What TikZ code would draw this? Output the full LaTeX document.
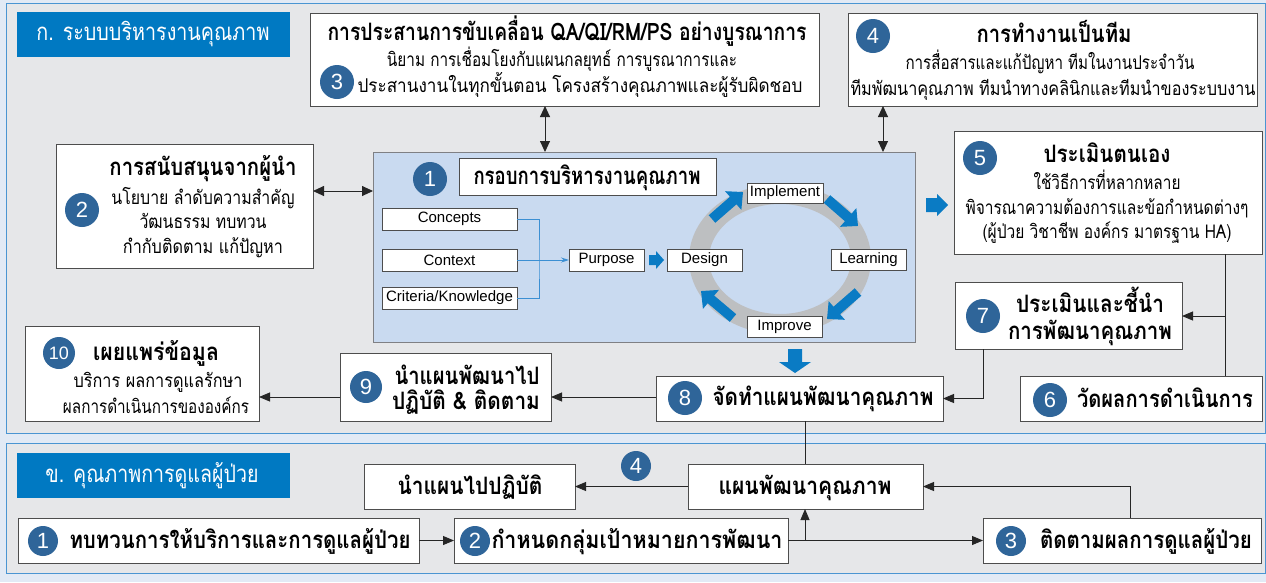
\documentclass[tikz,border=0pt]{standalone}
\usepackage{fontspec}
\usepackage{graphicx}
\setmainfont{Liberation Sans}
\newfontfamily\thai[Script=Thai]{Loma}
\usetikzlibrary{arrows.meta}

\definecolor{bgblue}{HTML}{E2EAF5}
\definecolor{panelgray}{HTML}{E6E7E9}
\definecolor{panelline}{HTML}{4A95D2}
\definecolor{hdrblue}{HTML}{0079C2}
\definecolor{numblue}{HTML}{2F6599}
\definecolor{fwblue}{HTML}{C9DAF0}
\definecolor{fwline}{HTML}{7F8084}
\definecolor{ringgray}{HTML}{BDBFC1}
\definecolor{arrblue}{HTML}{0A7BC4}
\definecolor{lineblue}{HTML}{3B8FD3}
\definecolor{boxline}{HTML}{4D4D4D}

\newcommand\fT{\thai\bfseries\fontsize{24}{28}\selectfont}
\newcommand\fB{\thai\fontsize{19}{22}\selectfont}
\newcommand\fH{\thai\fontsize{24}{28}\selectfont}

% box: [opts]{name}{x1}{y1}{x2}{y2}{text}
\newcommand\bx[7][]{\node[box,#1,minimum width={#5pt-#3pt},minimum height={#6pt-#4pt}] (#2) at ({(#3+#5)/2},{(#4+#6)/2}) {#7};}
% text line: {name}{x}{y}{width}{style}{text}
\newcommand\tl[6]{\node[#5] (#1) at (#2,#3) {\resizebox{#4pt}{\height}{#6}};}
% number circle: {name}{x,y}{digit}{radius}
\newcommand\num[4]{\node[numc,minimum size={2*#4pt}] (#1) at (#2) {#3};}
% right block arrow: {tipx}{tipy}{L}{h}{W}{w}
\newcommand\rblock[6]{\fill[arrblue] (#1,#2) -- ++(-#4,-#5) -- ++(0,#5-#6) -- ++(#4-#3,0) -- ++(0,2*#6) -- ++(#3-#4,0) -- ++(0,#5-#6) -- cycle;}
% down block arrow
\newcommand\dblock[6]{\fill[arrblue] (#1,#2) -- ++(-#5,-#4) -- ++(#5-#6,0) -- ++(0,#4-#3) -- ++(2*#6,0) -- ++(0,#3-#4) -- ++(#5-#6,0) -- cycle;}

\begin{document}
\begin{tikzpicture}[x=1pt,y=-1pt,
  box/.style={draw=boxline,line width=0.9pt,fill=white,inner sep=0,outer sep=0},
  lbox/.style={box,font=\fontsize{15}{17}\selectfont},
  numc/.style={circle,fill=numblue,text=white,inner sep=0,font=\fontsize{22}{22}\selectfont},
  ttl/.style={anchor=base,inner sep=0,font=\fT,yshift=-6.5pt},
  bdy/.style={anchor=base,inner sep=0,font=\fB,yshift=-5pt},
  hdr/.style={anchor=base,inner sep=0,font=\fH,text=white,yshift=-6.5pt},
  conn/.style={draw=black!85,line width=0.9pt,-{Triangle[length=11pt,width=9pt]}},
  dconn/.style={draw=black!85,line width=0.9pt,{Triangle[length=11pt,width=10pt]}-{Triangle[length=11pt,width=10pt]}},
  plain/.style={draw=black!85,line width=0.9pt},
  bline/.style={draw=lineblue,line width=0.9pt},
  ringarr/.style={draw=arrblue,line width=10pt,-{Triangle[length=13pt,width=24pt]}}
]
\useasboundingbox (0,0) rectangle (1266,582);
\fill[bgblue] (0,0) rectangle (1266,582);

% panels
\bx[fill=panelgray,draw=panelline]{pA}{6}{3}{1265}{433}{}
\bx[fill=panelgray,draw=panelline]{pB}{6}{443}{1265}{573}{}
\bx[fill=hdrblue,draw=none]{hA}{17}{12}{290}{57}{}
\bx[fill=hdrblue,draw=none]{hB}{17}{453}{290}{498}{}
\tl{thA}{153}{34}{233}{hdr}{ก. ระบบบริหารงานคุณภาพ}
\tl{thB}{152}{476}{213}{hdr}{ข. คุณภาพการดูแลผู้ป่วย}

% box 3
\bx{b3}{310}{13}{819}{106}{}
\num{c3}{337,82}{3}{17}
\tl{t3a}{567}{34}{479}{ttl}{การประสานการขับเคลื่อน QA/QI/RM/PS อย่างบูรณาการ}
\tl{t3b}{562}{61}{350}{bdy}{นิยาม การเชื่อมโยงกับแผนกลยุทธ์ การบูรณาการและ}
\tl{t3c}{580}{87}{445}{bdy}{ประสานงานในทุกขั้นตอน โครงสร้างคุณภาพและผู้รับผิดชอบ}

% box 4
\bx{b4}{848}{13}{1257}{106}{}
\num{c4}{873,36}{4}{17}
\tl{t4a}{1054}{36}{155}{ttl}{การทำงานเป็นทีม}
\tl{t4b}{1050}{64}{289}{bdy}{การสื่อสารและแก้ปัญหา ทีมในงานประจำวัน}
\tl{t4c}{1053}{90}{405}{bdy}{ทีมพัฒนาคุณภาพ ทีมนำทางคลินิกและทีมนำของระบบงาน}

% box 2
\bx{b2}{56}{144}{313}{268}{}
\num{c2}{82,210}{2}{17}
\tl{t2a}{203}{169}{187}{ttl}{การสนับสนุนจากผู้นำ}
\tl{t2b}{203}{199}{183}{bdy}{นโยบาย ลำดับความสำคัญ}
\tl{t2c}{203}{223}{127}{bdy}{วัฒนธรรม ทบทวน}
\tl{t2d}{203}{248}{160}{bdy}{กำกับติดตาม แก้ปัญหา}

% framework
\bx[fill=fwblue,draw=fwline]{fw}{373}{152}{915}{342}{}
\num{c1}{430,179}{1}{17}
\bx{fwt}{459}{158}{716}{195}{}
\tl{t1}{587}{178}{227}{ttl}{กรอบการบริหารงานคุณภาพ}
\bx[lbox]{concepts}{382}{208}{517}{230}{Concepts}
\bx[lbox]{context}{382}{249}{517}{271}{Context}
\bx[lbox]{criteria}{382}{287}{517}{309}{Criteria/Knowledge}
\bx[lbox]{purpose}{569}{249}{644}{271}{Purpose}
\coordinate (jb) at (539,260);
\draw[bline] (concepts.east) -| (jb) |- (criteria.east);
\draw[bline,-{Stealth[length=8pt,width=5pt]}] (context.east) -- (purpose.west);
\rblock{664}{260}{15}{8}{9}{5}
\draw[ringgray,line width=20pt] (780,259) ellipse [x radius=81pt, y radius=65pt];
\draw[ringarr] (712,219) -- (743,192);
\draw[ringarr] (827,199) -- (858,226);
\draw[ringarr] (858,292) -- (827,319);
\draw[ringarr] (733,318) -- (701,291);
\bx[lbox]{design}{667}{249}{742}{271}{Design}
\bx[lbox]{implement}{747}{183}{823}{203}{Implement}
\bx[lbox]{learning}{831}{249}{906}{270}{Learning}
\bx[lbox]{improve}{747}{316}{822}{337}{Improve}

% box 5
\bx{b5}{954}{131}{1262}{254}{}
\num{c5}{980,158}{5}{17}
\tl{t5a}{1107}{156}{127}{ttl}{ประเมินตนเอง}
\tl{t5b}{1107}{184}{147}{bdy}{ใช้วิธีการที่หลากหลาย}
\tl{t5c}{1107}{209}{283}{bdy}{พิจารณาความต้องการและข้อกำหนดต่างๆ}
\tl{t5d}{1107}{233}{249}{bdy}{(ผู้ป่วย วิชาชีพ องค์กร มาตรฐาน HA)}
\rblock{948}{205}{22}{11}{11}{7}

% box 7
\bx{b7}{955}{282}{1182}{349}{}
\num{c7}{983,316}{7}{17}
\tl{t7a}{1090}{306}{148}{ttl}{ประเมินและชี้นำ}
\tl{t7b}{1090}{333}{164}{ttl}{การพัฒนาคุณภาพ}

% box 6
\bx{b6}{1020}{376}{1262}{421}{}
\num{c6}{1050,400}{6}{17}
\tl{t6}{1165}{401}{176}{ttl}{วัดผลการดำเนินการ}

% box 8
\bx{b8}{656}{376}{943}{421}{}
\num{c8}{685,398}{8}{17}
\tl{t8}{823}{399}{221}{ttl}{จัดทำแผนพัฒนาคุณภาพ}
\dblock{795}{373}{24}{11}{16}{7}

% box 9
\bx{b9}{340}{353}{551}{421}{}
\num{c9}{366,387}{9}{16}
\tl{t9a}{467}{378}{145}{ttl}{นำแผนพัฒนาไป}
\tl{t9b}{466}{403}{148}{ttl}{ปฏิบัติ \& ติดตาม}

% box 10
\bx{b10}{25}{326}{259}{421}{}
\node[numc,minimum size=32pt,font=\fontsize{18}{18}\selectfont] (c10) at (59,353) {10};
\tl{t10a}{156}{354}{126}{ttl}{เผยแพร่ข้อมูล}
\tl{t10b}{158}{382}{169}{bdy}{บริการ ผลการดูแลรักษา}
\tl{t10c}{156}{408}{186}{bdy}{ผลการดำเนินการขององค์กร}

% panel B boxes
\bx{kimpl}{364}{464}{575}{509}{}
\tl{tki}{470}{488}{145}{ttl}{นำแผนไปปฏิบัติ}
\bx{kplan}{688}{464}{923}{509}{}
\tl{tkp}{805}{488}{173}{ttl}{แผนพัฒนาคุณภาพ}
\num{kc4}{636,466}{4}{15}
\bx{k1}{18}{518}{419}{563}{}
\num{kc1}{43,541}{1}{15}
\tl{tk1}{240}{542}{341}{ttl}{ทบทวนการให้บริการและการดูแลผู้ป่วย}
\bx{k2}{454}{518}{788}{563}{}
\num{kc2}{475,541}{2}{15}
\tl{tk2}{637}{542}{291}{ttl}{กำหนดกลุ่มเป้าหมายการพัฒนา}
\bx{k3}{983}{518}{1261}{563}{}
\num{kc3}{1011,541}{3}{15}
\tl{tk3}{1146}{542}{212}{ttl}{ติดตามผลการดูแลผู้ป่วย}

% connectors panel A
\draw[dconn] (b2.east |- 0,191) -- (fw.west |- 0,191);
\draw[dconn] (b3.south -| 545,0) -- (fw.north -| 545,0);
\draw[dconn] (b4.south -| 883,0) -- (fw.north -| 883,0);
\draw[plain] (b5.south -| 1225,0) -- (b6.north -| 1225,0);
\coordinate (j7) at (1225,316);
\draw[conn] (j7) -- (b7.east |- j7);
\draw[conn] (b7.south -| 983,0) |- (b8.east);
\draw[conn] (b8.west |- 0,397) -- (b9.east |- 0,397);
\draw[conn] (b9.west |- 0,397) -- (b10.east |- 0,397);
\draw[plain] (b8.south -| 805,0) -- (kplan.north -| 805,0);

% connectors panel B
\draw[conn] (kplan.west) -- (kimpl.east);
\draw[conn] (k1.east) -- (k2.west);
\draw[conn] (k2.east) -- (k3.west);
\draw[conn] (k2.east -| 805,0) -- (kplan.south -| 805,0);
\draw[conn] (k3.north -| 1130,0) |- (kplan.east);
\end{tikzpicture}
\end{document}
